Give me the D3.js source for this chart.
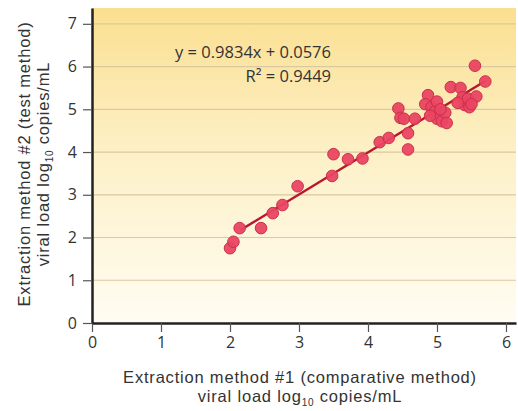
<!DOCTYPE html>
<html><head><meta charset="utf-8">
<script src="https://cdn.jsdelivr.net/npm/d3@7/dist/d3.min.js"></script>
<style>body{margin:0;background:#fff}svg{display:block}text{font-family:"Open Sans","Liberation Sans",sans-serif}.ttl{font-family:"Liberation Sans",Arial,sans-serif}</style>
</head><body><svg id="c" width="518" height="411"></svg>
<script>
const xVals = [2.00,2.05,2.14,2.45,2.62,2.76,2.98,3.48,3.50,3.71,3.92,4.17,4.30,4.44,4.47,4.52,4.58,4.58,4.68,4.87,4.83,4.92,4.97,5.00,5.00,5.07,5.12,5.14,5.20,5.34,5.37,5.40,5.45,5.47,5.57,5.55,5.70,4.90,5.05,5.30,5.50];
const yVals = [1.75,1.90,2.22,2.22,2.57,2.76,3.20,3.44,3.95,3.83,3.85,4.23,4.33,5.02,4.80,4.78,4.44,4.06,4.78,5.33,5.12,5.05,4.95,5.18,4.78,4.72,4.92,4.68,5.52,5.50,5.28,5.10,5.25,5.05,5.30,6.02,5.65,4.85,5.00,5.15,5.12];
const xTicks = [0,1,2,3,4,5,6];
const yTicks = [0,1,2,3,4,5,6,7];
const slope = 0.9834, intercept = 0.0576;
const fitRange = [2.15, 5.7];
const eqLines = ["y = 0.9834x + 0.0576", "R² = 0.9449"];

const svg = d3.select("#c");
const x = d3.scaleLinear().domain([0, 6.145]).range([92, 516]);
const y = d3.scaleLinear().domain([0, 7.37]).range([323, 8]);

const defs = svg.append("defs");
const g = defs.append("linearGradient").attr("id","bg").attr("x1",0).attr("y1",0).attr("x2",0).attr("y2",1);
g.append("stop").attr("offset","0%").attr("stop-color","#fbdf90");
g.append("stop").attr("offset","45%").attr("stop-color","#fdf0c6");
g.append("stop").attr("offset","100%").attr("stop-color","#fffcf2");
svg.append("rect").attr("x",x(0)).attr("y",y(7.37)).attr("width",x(6.145)-x(0)).attr("height",y(0)-y(7.37)).attr("fill","url(#bg)");

svg.append("g").selectAll("line").data(yTicks.filter(d=>d>0)).join("line")
  .attr("x1",x(0)).attr("x2",x(6.145)).attr("y1",d=>y(d)).attr("y2",d=>y(d))
  .attr("stroke","#d9c9a0").attr("stroke-width",1.2);

// regression line
svg.append("line").attr("x1",x(fitRange[0])).attr("y1",y(slope*fitRange[0]+intercept))
  .attr("x2",x(fitRange[1])).attr("y2",y(slope*fitRange[1]+intercept))
  .attr("stroke","#b8182e").attr("stroke-width",2.5);

svg.append("g").selectAll("circle").data(xVals.map((v,i)=>[v,yVals[i]])).join("circle")
  .attr("cx",d=>x(d[0])).attr("cy",d=>y(d[1])).attr("r",5.8)
  .attr("fill","#ea4562").attr("stroke","#c93049").attr("stroke-width",1).attr("fill-opacity",0.95);

// axes
const xa = svg.append("g").attr("transform",`translate(0,${y(0)})`)
  .call(d3.axisBottom(x).tickValues(xTicks).tickFormat(d3.format("d")).tickSize(9).tickSizeOuter(0));
const ya = svg.append("g").attr("transform",`translate(${x(0)},0)`)
  .call(d3.axisLeft(y).tickValues(yTicks).tickFormat(d3.format("d")).tickSize(9).tickSizeOuter(0));
[xa,ya].forEach(a=>{
  a.select(".domain").attr("stroke","#222").attr("stroke-width",2.5);
  a.selectAll(".tick line").attr("stroke","#555").attr("stroke-width",1.2);
  a.selectAll(".tick text").attr("fill","#333").style("font-size","16px");
});
xa.selectAll(".tick text").attr("y",14).attr("dy","0.71em");
ya.selectAll(".tick text").attr("x",-15);

// equation
svg.append("text").attr("x",331).attr("y",58).attr("text-anchor","end").attr("fill","#333").style("font-size","16.5px").text(eqLines[0]);
svg.append("text").attr("x",331).attr("y",82).attr("text-anchor","end").attr("fill","#333").style("font-size","16.5px").text(eqLines[1]);

function title(tr, y0, lines) {
  const t1 = svg.append("text").attr("class","ttl").attr("transform",tr).attr("y",y0).attr("text-anchor","middle")
    .attr("fill","#333").style("font-size","16.5px").style("letter-spacing","0.8px").text(lines[0]);
  const t2 = svg.append("text").attr("class","ttl").attr("transform",tr).attr("y",y0+19).attr("text-anchor","middle")
    .attr("fill","#333").style("font-size","16.5px").style("letter-spacing","0.8px");
  t2.append("tspan").text(lines[1]);
  t2.append("tspan").attr("dy",4).style("font-size","10px").text("10");
  t2.append("tspan").attr("dy",-4).text(lines[2]);
}
title("translate(300,0)", 383, ["Extraction method #1 (comparative method)", "viral load log", " copies/mL"]);
title("translate(0,164) rotate(-90)", 30, ["Extraction method #2 (test method)", "viral load log", " copies/mL"]);
</script></body></html>
